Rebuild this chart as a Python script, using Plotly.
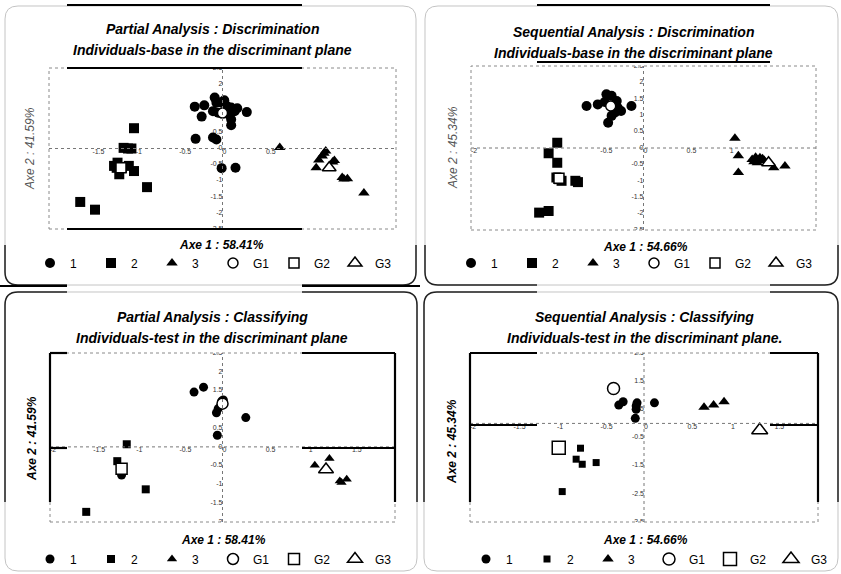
import plotly.graph_objects as go

W, H = 841, 574

# ---------------- data ----------------
# Panel 1 : Partial Analysis : Discrimination (individuals-base)
p1_c1_x = [-0.32, -0.21, -0.24, -0.09, -0.07, -0.11, -0.01, 0.05, 0.10, 0.14, 0.28, 0.07, 0.10, 0.10, -0.05, -0.31, -0.11, -0.07, -0.01, 0.15, 0.02, 0.17]
p1_c1_y = [1.30, 1.34, 0.99, 1.58, 1.42, 1.16, 1.42, 1.32, 1.27, 1.16, 1.13, 1.06, 0.90, 0.72, 1.11, 0.30, 0.34, 0.28, -0.61, -0.60, 1.50, 1.25]
p1_c2_x = [-1.02, -1.14, -1.09, -1.05, -1.21, -1.25, -1.19, -1.08, -1.02, -0.87, -1.64, -1.47, -1.16, -1.22]
p1_c2_y = [0.63, 0.02, 0.00, 0.00, -0.44, -0.54, -0.80, -0.54, -0.70, -1.20, -1.66, -1.90, -0.60, -0.60]
p1_c3_x = [0.66, 1.19, 1.15, 1.11, 1.29, 1.08, 1.38, 1.44, 1.40, 1.63, 1.17, 1.27]
p1_c3_y = [0.03, -0.08, -0.23, -0.36, -0.37, -0.60, -0.90, -0.94, -0.95, -1.38, -0.15, -0.42]
p1_g_x = [0.00, -1.17, 1.23]
p1_g_y = [1.10, -0.60, -0.60]

# Panel 2 : Sequential Analysis : Discrimination (individuals-base)
p2_c1_x = [-0.66, -0.53, -0.43, -0.37, -0.31, -0.30, -0.33, -0.37, -0.41, -0.14, -0.26, -0.45]
p2_c1_y = [1.28, 1.33, 1.64, 1.59, 1.43, 1.23, 1.08, 0.98, 0.77, 1.28, 1.13, 1.40]
p2_c2_x = [-1.00, -1.10, -1.00, -0.98, -1.01, -0.95, -0.76, -0.79, -1.21, -1.10]
p2_c2_y = [0.16, -0.16, -0.45, -0.95, -0.90, -1.00, -1.04, -1.00, -1.97, -1.92]
p2_c3_x = [1.06, 1.10, 1.10, 1.26, 1.30, 1.35, 1.40, 1.32, 1.28, 1.38, 1.51, 1.64]
p2_c3_y = [0.30, -0.24, -0.75, -0.35, -0.28, -0.30, -0.38, -0.45, -0.42, -0.33, -0.60, -0.55]
p2_g_x = [-0.38, -0.98, 1.45]
p2_g_y = [1.28, -0.92, -0.45]

# Panel 3 : Partial Analysis : Classifying (individuals-test)
p3_c1_x = [-0.33, -0.22, -0.01, 0.01, -0.05, -0.07, 0.27, -0.06, -1.17]
p3_c1_y = [1.46, 1.59, 1.22, 1.25, 1.02, 0.91, 0.78, 0.31, -0.75]
p3_c2_x = [-1.11, -1.22, -0.89, -1.58]
p3_c2_y = [0.07, -0.38, -1.13, -1.73]
p3_c3_x = [1.07, 1.24, 1.36, 1.44, 1.38]
p3_c3_y = [-0.49, -0.31, -0.91, -0.86, -0.95]
p3_g_x = [0.00, -1.17, 1.20]
p3_g_y = [1.15, -0.58, -0.60]

# Panel 4 : Sequential Analysis : Classifying (individuals-test)
p4_c1_x = [-0.24, -0.29, -0.08, -0.09, -0.10, 0.12, -0.09]
p4_c1_y = [0.77, 0.65, 0.73, 0.50, 0.18, 0.73, 0.62]
p4_c2_x = [-0.73, -0.78, -0.71, -0.55, -0.94]
p4_c2_y = [-0.88, -1.27, -1.45, -1.39, -2.42]
p4_c3_x = [0.69, 0.80, 0.92]
p4_c3_y = [0.57, 0.65, 0.77]
p4_g_x = [-0.35, -0.98, 1.33]
p4_g_y = [1.24, -0.86, -0.24]

# tick values
p1_xticks = [-1.5, -1, -0.5, 0, 0.5]
p1_yticks = [2.5, 2, 1.5, 1, 0.5, 0, -0.5, -1, -1.5, -2, -2.5]
p2_xticks = [-2, -0.5, 0, 0.5, 1, 2]
p2_yticks = [2.5, 2, 1.5, 1, 0.5, 0, -0.5, -1, -1.5, -2, -2.5]
p3_xticks = [-2, -1.5, -1, -0.5, 0, 0.5, 1, 1.5, 2]
p3_yticks = [2.5, 2, 1.5, 0.5, 0, -0.5, -1, -1.5, -2]
p4_xticks = [-2, -1.5, -1, -0.5, 0, 0.5, 1, 1.5, 2]
p4_yticks = [2.5, 1.5, 0.5, -0.5, -1.5, -2.5, -3.5]

# texts
titles = [
    ("Partial Analysis : Discrimination", "Individuals-base in the discriminant plane"),
    ("Sequential Analysis : Discrimination", "Individuals-base in the discriminant plane"),
    ("Partial Analysis : Classifying", "Individuals-test in the discriminant plane"),
    ("Sequential Analysis : Classifying", "Individuals-test in the discriminant plane."),
]
x_titles = ["Axe 1 : 58.41%", "Axe 1 : 54.66%", "Axe 1 : 58.41%", "Axe 1 : 54.66%"]
y_titles = ["Axe 2 : 41.59%", "Axe 2 : 45.34%", "Axe 2 : 41.59%", "Axe 2 : 45.34%"]
class_names = ["1", "2", "3", "G1", "G2", "G3"]

# ---------------- layout geometry (pixels) ----------------
def X(px):
    return px / W

def Y(py):
    return 1 - py / H

panels = [
    dict(c=[(p1_c1_x, p1_c1_y), (p1_c2_x, p1_c2_y), (p1_c3_x, p1_c3_y)], g=(p1_g_x, p1_g_y),
         xt=p1_xticks, yt=p1_yticks, xr=[-2, 2], yr=[-2.5, 2.5],
         box=(49, 68, 396, 229), title_c=(212, 29), xtitle=(222, 245), ytitle=(30, 149),
         ytbold=False, legy=263, legx=30, sizes=(10, 10, 10), gsizes=(10, 10, 12)),
    dict(c=[(p2_c1_x, p2_c1_y), (p2_c2_x, p2_c2_y), (p2_c3_x, p2_c3_y)], g=(p2_g_x, p2_g_y),
         xt=p2_xticks, yt=p2_yticks, xr=[-2, 2], yr=[-2.5, 2.5],
         box=(471, 66, 816, 230), title_c=(633, 32), xtitle=(645, 247), ytitle=(453, 148),
         ytbold=False, legy=263, legx=451, sizes=(10, 10, 10), gsizes=(10, 10, 12)),
    dict(c=[(p3_c1_x, p3_c1_y), (p3_c2_x, p3_c2_y), (p3_c3_x, p3_c3_y)], g=(p3_g_x, p3_g_y),
         xt=p3_xticks, yt=p3_yticks, xr=[-2, 2], yr=[-2, 2.5],
         box=(50, 353, 395, 522), title_c=(212, 317), xtitle=(223, 540), ytitle=(32, 438),
         ytbold=True, legy=559, legx=30, sizes=(9, 8, 9), gsizes=(11, 11, 13)),
    dict(c=[(p4_c1_x, p4_c1_y), (p4_c2_x, p4_c2_y), (p4_c3_x, p4_c3_y)], g=(p4_g_x, p4_g_y),
         xt=p4_xticks, yt=p4_yticks, xr=[-2, 2], yr=[-3.5, 2.5],
         box=(470, 353, 818, 522), title_c=(644, 317), xtitle=(645, 540), ytitle=(452, 441),
         ytbold=True, legy=559, legx=466, sizes=(9, 7, 10), gsizes=(12, 13, 14)),
]

FONT = "Liberation Sans, Arial, sans-serif"
fig = go.Figure()
shapes = []
annotations = []
layout = dict(width=W, height=H, margin=dict(l=0, r=0, t=0, b=0),
              paper_bgcolor="white", plot_bgcolor="white",
              font=dict(family=FONT, color="black"))

symbols = ["circle", "square", "triangle-up"]

for i, p in enumerate(panels):
    n = i + 1
    xa = "xaxis" if n == 1 else f"xaxis{n}"
    ya = "yaxis" if n == 1 else f"yaxis{n}"
    xr_ = "x" if n == 1 else f"x{n}"
    yr_ = "y" if n == 1 else f"y{n}"
    lg = "legend" if n == 1 else f"legend{n}"
    x0, y0, x1, y1 = p["box"]
    layout[xa] = dict(domain=[X(x0), X(x1)], range=p["xr"], visible=False, anchor=yr_)
    layout[ya] = dict(domain=[Y(y1), Y(y0)], range=p["yr"], visible=False, anchor=xr_)

    # plot frame (dotted) and centred axes
    shapes.append(dict(type="rect", xref=f"{xr_} domain", yref=f"{yr_} domain", x0=0, x1=1, y0=0, y1=1,
                       line=dict(color="#8a8a8a", width=1, dash="dot")))
    shapes.append(dict(type="line", xref=xr_, yref=yr_, x0=p["xr"][0], x1=p["xr"][1], y0=0, y1=0,
                       line=dict(color="#777", width=1, dash="dot")))
    shapes.append(dict(type="line", xref=xr_, yref=yr_, x0=0, x1=0, y0=p["yr"][0], y1=p["yr"][1],
                       line=dict(color="#777", width=1, dash="dot")))

    # tick labels placed along the centred axes
    fig.add_trace(go.Scatter(x=p["xt"], y=[0] * len(p["xt"]), mode="text",
                             text=[f"{v:g}" for v in p["xt"]], textposition="bottom right",
                             textfont=dict(size=7, color="#333", family=FONT),
                             xaxis=xr_, yaxis=yr_, showlegend=False, hoverinfo="skip"))
    fig.add_trace(go.Scatter(x=[0] * len(p["yt"]), y=p["yt"], mode="text",
                             text=[f"{v:g}" for v in p["yt"]], textposition="middle left",
                             textfont=dict(size=7, color="#333", family=FONT),
                             xaxis=xr_, yaxis=yr_, showlegend=False, hoverinfo="skip"))

    # class points
    for k, (cx, cy) in enumerate(p["c"]):
        fig.add_trace(go.Scatter(x=cx, y=cy, mode="markers", name=class_names[k],
                                 marker=dict(symbol=symbols[k], size=p["sizes"][k], color="black",
                                             line=dict(width=0)),
                                 xaxis=xr_, yaxis=yr_, legend=lg, hoverinfo="skip"))
    # group centroids (hollow)
    gx, gy = p["g"]
    for k in range(3):
        fig.add_trace(go.Scatter(x=[gx[k]], y=[gy[k]], mode="markers", name=class_names[3 + k],
                                 marker=dict(symbol=symbols[k], size=p["gsizes"][k], color="white",
                                             line=dict(width=1.5, color="black")),
                                 xaxis=xr_, yaxis=yr_, legend=lg, hoverinfo="skip"))

    layout[lg] = dict(orientation="h", x=X(p["legx"]), y=Y(p["legy"]), xanchor="left", yanchor="middle",
                      entrywidth=16, entrywidthmode="pixels", font=dict(size=12, family=FONT),
                      bgcolor="rgba(0,0,0,0)", tracegroupgap=0, itemwidth=30)

    # titles
    tx, ty = p["title_c"]
    annotations.append(dict(x=X(tx), y=Y(ty), xref="paper", yref="paper", showarrow=False,
                            xanchor="center", yanchor="middle",
                            text=f"<b><i>{titles[i][0]}</i></b>", font=dict(size=14, family=FONT)))
    annotations.append(dict(x=X(tx), y=Y(ty + 21), xref="paper", yref="paper", showarrow=False,
                            xanchor="center", yanchor="middle",
                            text=f"<b><i>{titles[i][1]}</i></b>", font=dict(size=14, family=FONT)))
    ax_, ay_ = p["xtitle"]
    annotations.append(dict(x=X(ax_), y=Y(ay_), xref="paper", yref="paper", showarrow=False,
                            xanchor="center", yanchor="middle",
                            text=f"<b><i>{x_titles[i]}</i></b>", font=dict(size=12, family=FONT)))
    bx, by = p["ytitle"]
    yt_text = f"<b><i>{y_titles[i]}</i></b>" if p["ytbold"] else f"<i>{y_titles[i]}</i>"
    annotations.append(dict(x=X(bx), y=Y(by), xref="paper", yref="paper", showarrow=False, textangle=-90,
                            xanchor="center", yanchor="middle",
                            text=yt_text, font=dict(size=12, family=FONT,
                                                    color="black" if p["ytbold"] else "#555")))

# ---------------- decorative frames (pixels -> paper) ----------------
def path(cmds):
    out = []
    for c in cmds:
        op = c[0]
        pts = c[1:]
        out.append(op + " " + " ".join(f"{X(a):.5f},{Y(b):.5f}" for a, b in pts))
    return " ".join(out)

def rrect(x0, y0, x1, y1, r):
    return path([("M", (x0 + r, y0)), ("L", (x1 - r, y0)), ("Q", (x1, y0), (x1, y0 + r)),
                 ("L", (x1, y1 - r)), ("Q", (x1, y1), (x1 - r, y1)), ("L", (x0 + r, y1)),
                 ("Q", (x0, y1), (x0, y1 - r)), ("L", (x0, y0 + r)), ("Q", (x0, y0), (x0 + r, y0))]) + " Z"

boxes = [(5, 6, 416, 285), (425, 6, 838, 285), (5, 292, 417, 571), (424, 292, 838, 571)]
for b in boxes:
    shapes.append(dict(type="path", xref="paper", yref="paper", path=rrect(*b, 13),
                       line=dict(color="#c4c4c4", width=1)))

dark = [
    [("M", (5, 245)), ("L", (5, 272)), ("Q", (5, 285), (18, 285)), ("L", (67, 285))],
    [("M", (302, 285)), ("L", (403, 285)), ("Q", (416, 285), (416, 272)), ("L", (416, 245))],
    [("M", (425, 245)), ("L", (425, 272)), ("Q", (425, 285), (438, 285)), ("L", (537, 285))],
    [("M", (770, 285)), ("L", (825, 285)), ("Q", (838, 285), (838, 272)), ("L", (838, 245))],
    [("M", (5, 502)), ("L", (5, 305)), ("Q", (5, 292), (18, 292)), ("L", (67, 292))],
    [("M", (302, 292)), ("L", (404, 292)), ("Q", (417, 292), (417, 305)), ("L", (417, 502))],
    [("M", (424, 502)), ("L", (424, 305)), ("Q", (424, 292), (437, 292)), ("L", (537, 292))],
    [("M", (770, 292)), ("L", (825, 292)), ("Q", (838, 292), (838, 305)), ("L", (838, 502))],
]
for d in dark:
    shapes.append(dict(type="path", xref="paper", yref="paper", path=path(d),
                       line=dict(color="#222", width=1.5)))

thick = [
    (67, 5, 302, 5), (67, 68, 302, 68), (67, 229, 302, 229),
    (537, 5, 770, 5), (537, 62, 770, 62),
    (0, 286, 67, 286), (302, 286, 420, 286),
    (50, 353, 67, 353), (302, 353, 395, 353), (50, 353, 50, 502), (395, 353, 395, 502),
    (50, 448, 67, 448), (302, 448, 395, 448),
    (470, 353, 537, 353), (770, 353, 818, 353), (470, 353, 470, 502), (818, 353, 818, 502),
    (470, 425, 537, 425), (770, 425, 818, 425),
]
for a, b, c, d in thick:
    shapes.append(dict(type="line", xref="paper", yref="paper", x0=X(a), y0=Y(b), x1=X(c), y1=Y(d),
                       line=dict(color="black", width=2.2)))

layout["shapes"] = shapes
layout["annotations"] = annotations
fig.update_layout(**layout)
fig.write_html("out.html")
